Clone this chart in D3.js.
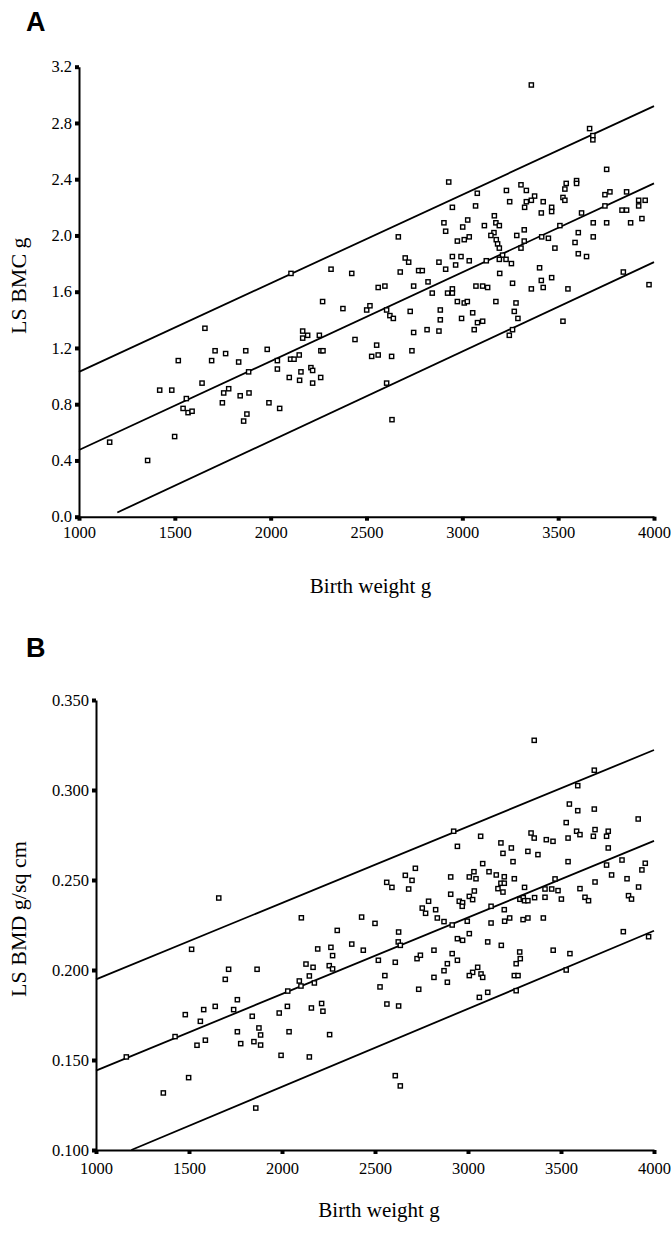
<!DOCTYPE html>
<html>
    <head>
        <title>Birth weight vs lumbar spine bone mass</title>
        <meta charset="UTF-8">
        <script type="text/javascript" src="https://cdn.jsdelivr.net/npm/d3@7"></script>
        <style type="text/css">
            body { margin: 0; background: #fff; }
            text { font-family: "Liberation Serif", "Times New Roman", serif; fill: #000; }
            .panel-letter { font-family: "Liberation Sans", Arial, sans-serif !important; font-weight: bold; font-size: 27px; }
            .axis path { stroke: #000; stroke-width: 2; fill: none; }
            .axis line { stroke: #000; stroke-width: 4; }
            .xaxis text { font-family: "Liberation Serif", serif !important; font-size: 16.5px !important; }
            .yaxis text { font-family: "Liberation Serif", serif !important; font-size: 16.5px !important; }
        </style>
    </head>
    <body>
        <div id="chart"></div>

        <script type="text/javascript">
            var svgW = 671;
            var svgH = 1233;

            // Panel A: birth weight (g), LS BMC (g)
            var pointsA = [
                [1160, 0.53], [1358, 0.40], [1421, 0.90], [1484, 0.90], [1499, 0.57], [1518, 1.11],
                [1543, 0.77], [1560, 0.84], [1569, 0.74], [1590, 0.75], [1642, 0.95], [1657, 1.34],
                [1692, 1.11], [1710, 1.18], [1748, 0.81], [1755, 0.88], [1765, 1.16], [1781, 0.91],
                [1833, 1.10], [1841, 0.86], [1859, 0.68], [1870, 1.18], [1876, 0.73], [1885, 1.03],
                [1887, 0.88], [1982, 1.19], [1991, 0.81], [2035, 1.11], [2035, 1.05], [2047, 0.77],
                [2097, 0.99], [2104, 1.12], [2122, 1.12], [2149, 1.15], [2151, 0.97], [2158, 1.03],
                [2167, 1.32], [2167, 1.27], [2193, 1.29], [2210, 1.06], [2219, 1.04], [2219, 0.95],
                [2254, 1.29], [2261, 0.99], [2262, 1.18], [2273, 1.18], [2271, 1.53], [2106, 1.73],
                [2315, 1.76], [3360, 3.07], [3664, 2.76], [3681, 2.71], [3681, 2.68], [2929, 2.38],
                [3753, 2.47], [3078, 2.30], [2948, 2.20], [3069, 2.21], [3230, 2.32], [3306, 2.36],
                [3334, 2.32], [3377, 2.28], [3360, 2.25], [3334, 2.24], [3325, 2.20], [3247, 2.24],
                [3422, 2.24], [3466, 2.20], [3466, 2.17], [3412, 2.16], [3542, 2.37], [3535, 2.33],
                [3596, 2.39], [3596, 2.37], [3525, 2.27], [3535, 2.25], [3744, 2.29], [3770, 2.31],
                [3857, 2.31], [3920, 2.25], [3954, 2.25], [3920, 2.21], [3744, 2.21], [3622, 2.16],
                [3833, 2.18], [3857, 2.18], [3937, 2.12], [3878, 2.09], [3753, 2.09], [3683, 2.09],
                [3509, 2.07], [3605, 2.02], [3683, 1.99], [3588, 1.95], [3605, 1.87], [3648, 1.85],
                [3483, 1.91], [3449, 1.98], [3414, 1.99], [3403, 1.77], [3466, 1.70], [3412, 1.68],
                [3422, 1.63], [3360, 1.62], [3551, 1.62], [3840, 1.74], [3974, 1.65], [3525, 1.39],
                [3323, 2.04], [3323, 1.96], [3306, 1.91], [3284, 2.00], [3167, 2.14], [3175, 2.09],
                [3193, 2.07], [3165, 2.02], [3149, 2.00], [3177, 1.97], [3184, 1.94], [3193, 1.91],
                [3210, 1.86], [3193, 1.83], [3228, 1.83], [3256, 1.80], [3125, 1.82], [3115, 2.07],
                [3195, 1.73], [3262, 1.66], [3028, 2.11], [3002, 2.06], [2904, 2.09], [2913, 2.03],
                [3036, 1.99], [3010, 1.97], [2974, 1.96], [2948, 1.85], [2993, 1.85], [3036, 1.82],
                [2878, 1.81], [2965, 1.79], [2913, 1.76], [2666, 1.99], [2702, 1.84], [2720, 1.81],
                [2676, 1.74], [2772, 1.75], [2791, 1.75], [2821, 1.67], [2843, 1.59], [2746, 1.64],
                [2596, 1.64], [2561, 1.63], [2423, 1.73], [2923, 1.59], [2948, 1.62], [2948, 1.59],
                [3071, 1.64], [3106, 1.64], [3132, 1.63], [2974, 1.53], [3010, 1.52], [3026, 1.53],
                [3175, 1.53], [3280, 1.52], [3271, 1.46], [3290, 1.41], [3262, 1.33], [3245, 1.29],
                [3054, 1.45], [2996, 1.41], [3079, 1.38], [3106, 1.39], [3062, 1.33], [2885, 1.47],
                [2885, 1.40], [2878, 1.32], [2816, 1.33], [2746, 1.31], [2728, 1.46], [2605, 1.47],
                [2622, 1.43], [2640, 1.41], [2501, 1.47], [2518, 1.50], [2377, 1.48], [2440, 1.26],
                [2553, 1.22], [2527, 1.14], [2561, 1.15], [2631, 1.14], [2737, 1.18], [2605, 0.95],
                [2633, 0.69]
            ];

            // Panel A regression line and its limits
            var fitA = [[1000, 0.474], [4000, 2.37]];
            var upperA = [[1000, 1.03], [4000, 2.92]];
            var lowerA = [[1200, 0.03], [4000, 1.81]];

            // Panel B: birth weight (g), LS BMD (g/sq cm)
            var pointsB = [
                [1660, 0.240], [2104, 0.229], [2297, 0.222], [1514, 0.2115], [1713, 0.2004], [1866, 0.2004],
                [1695, 0.1948], [2129, 0.2033], [2167, 0.2015], [2192, 0.2117], [2263, 0.2126], [2272, 0.208],
                [2254, 0.2024], [2272, 0.2006], [2147, 0.1967], [2093, 0.1939], [2102, 0.1911], [2174, 0.1928],
                [2031, 0.1883], [2029, 0.1798], [2158, 0.1789], [2213, 0.1814], [2220, 0.1771], [1985, 0.1761],
                [2038, 0.1657], [2147, 0.1517], [1995, 0.1526], [2256, 0.1641], [1840, 0.1743], [1849, 0.1602],
                [1876, 0.1678], [1885, 0.1639], [1885, 0.1583], [1778, 0.1591], [1760, 0.1657], [1760, 0.1835],
                [1740, 0.1780], [1641, 0.1798], [1579, 0.1780], [1561, 0.1715], [1480, 0.1752], [1588, 0.1610],
                [1543, 0.1582], [1425, 0.1630], [1163, 0.1517], [1498, 0.1402], [1362, 0.1317], [1859, 0.1233],
                [3356, 0.3276], [3679, 0.311], [3590, 0.3024], [3545, 0.2922], [3590, 0.2885], [3679, 0.2894],
                [3915, 0.2839], [3528, 0.2819], [2923, 0.2771], [3068, 0.2743], [2943, 0.2687], [3177, 0.2706],
                [3233, 0.2678], [3188, 0.2648], [3339, 0.2761], [3356, 0.2733], [3421, 0.2724], [3457, 0.2715],
                [3538, 0.2733], [3584, 0.2771], [3602, 0.2752], [3683, 0.2780], [3674, 0.2743], [3754, 0.2771],
                [3745, 0.2743], [3754, 0.2678], [3322, 0.2659], [3376, 0.2641], [3538, 0.2602], [3242, 0.2602],
                [3079, 0.2591], [3032, 0.2546], [3113, 0.2546], [3152, 0.2528], [3195, 0.2518], [3007, 0.2517],
                [3043, 0.2507], [2907, 0.2517], [3249, 0.2507], [3177, 0.2482], [3195, 0.2482], [3161, 0.2452],
                [3188, 0.2433], [3034, 0.2439], [3007, 0.2409], [3025, 0.2391], [2907, 0.2421], [2953, 0.2382],
                [2971, 0.2374], [2969, 0.2354], [3124, 0.2354], [3195, 0.2335], [3304, 0.2459], [3279, 0.2393],
                [3297, 0.2402], [3304, 0.2385], [3322, 0.2385], [3358, 0.2402], [3414, 0.2450], [3414, 0.2404],
                [3450, 0.2450], [3468, 0.2506], [3484, 0.2441], [3502, 0.2394], [3602, 0.2452], [3629, 0.2404],
                [3648, 0.2385], [3683, 0.2489], [3745, 0.2583], [3772, 0.2528], [3828, 0.2611], [3855, 0.2507],
                [3917, 0.2461], [3935, 0.2556], [3953, 0.2593], [3863, 0.2413], [3879, 0.2394], [3835, 0.2213],
                [3971, 0.2185], [3405, 0.2289], [3322, 0.2289], [3296, 0.2280], [3224, 0.2289], [3197, 0.2271],
                [3124, 0.2261], [2996, 0.2271], [2915, 0.2250], [2871, 0.2269], [2835, 0.2289], [2826, 0.2335],
                [2788, 0.2382], [2754, 0.2344], [2772, 0.2315], [2717, 0.2565], [2663, 0.2526], [2699, 0.2498],
                [2563, 0.2487], [2591, 0.2459], [2681, 0.2450], [2428, 0.2294], [2500, 0.2259], [2627, 0.2211],
                [2625, 0.2156], [2636, 0.2137], [2437, 0.2110], [2375, 0.2144], [2518, 0.2054], [2609, 0.2043],
                [2726, 0.2063], [2744, 0.2082], [2817, 0.2110], [2915, 0.2091], [2943, 0.2054], [2889, 0.2035],
                [2871, 0.1996], [2817, 0.1959], [2889, 0.1932], [2943, 0.2174], [2971, 0.2165], [3007, 0.2202],
                [3106, 0.2156], [3179, 0.2137], [3278, 0.2100], [3281, 0.2063], [3259, 0.2035], [3052, 0.2015],
                [3025, 0.1987], [3007, 0.1969], [3070, 0.1978], [3079, 0.1959], [3249, 0.1969], [3269, 0.1969],
                [3458, 0.2110], [3548, 0.2091], [3528, 0.2000], [2553, 0.1969], [2527, 0.1906], [2735, 0.1893],
                [3259, 0.1885], [3106, 0.1876], [3061, 0.1848], [2564, 0.1811], [2627, 0.1800], [2609, 0.1413],
                [2636, 0.1356]
            ];

            var fitB = [[1000, 0.1441], [4000, 0.2717]];
            var upperB = [[1000, 0.1948], [4000, 0.3222]];
            var lowerB = [[1190, 0.100], [4000, 0.2218]];

            var xTicks = [1000, 1500, 2000, 2500, 3000, 3500, 4000];
            var yTicksA = [0.0, 0.4, 0.8, 1.2, 1.6, 2.0, 2.4, 2.8, 3.2];
            var yTicksB = [0.100, 0.150, 0.200, 0.250, 0.300, 0.350];

            var svg = d3.select("#chart").append("svg")
                    .attr("width", svgW)
                    .attr("height", svgH);

            function drawPanel(opt) {
                var x = d3.scaleLinear().domain([1000, 4000]).range([opt.left, opt.right]);
                var y = d3.scaleLinear().domain(opt.yDomain).range([opt.bottom, opt.top]);

                svg.append("text")
                        .attr("class", "panel-letter")
                        .attr("x", 26)
                        .attr("y", opt.letterY)
                        .text(opt.letter);

                svg.append("g")
                        .attr("class", "axis xaxis")
                        .attr("transform", "translate(0," + opt.bottom + ")")
                        .call(d3.axisBottom(x).tickValues(xTicks).tickSize(4).tickSizeOuter(0)
                                .tickPadding(opt.xPad).tickFormat(d3.format("d")))
                        .attr("font-family", "Liberation Serif")
                        .attr("font-size", 16.5);

                svg.append("g")
                        .attr("class", "axis yaxis")
                        .attr("transform", "translate(" + opt.left + ",0)")
                        .call(d3.axisLeft(y).tickValues(opt.yTicks).tickSize(4).tickSizeOuter(0)
                                .tickPadding(3).tickFormat(d3.format(opt.yFormat)))
                        .attr("font-family", "Liberation Serif")
                        .attr("font-size", 16.5);

                var line = d3.line()
                        .x(function (d) { return x(d[0]); })
                        .y(function (d) { return y(d[1]); });

                [opt.upper, opt.fit, opt.lower].forEach(function (l) {
                    svg.append("path")
                            .attr("d", line(l))
                            .attr("fill", "none")
                            .attr("stroke", "#000")
                            .attr("stroke-width", 1.8);
                });

                var s = 4.2;
                svg.append("g").selectAll("rect")
                        .data(opt.points)
                        .enter()
                        .append("rect")
                        .attr("x", function (d) { return x(d[0]) - s / 2; })
                        .attr("y", function (d) { return y(d[1]) - s / 2; })
                        .attr("width", s)
                        .attr("height", s)
                        .attr("fill", "#fff")
                        .attr("stroke", "#000")
                        .attr("stroke-width", 1.4);

                svg.append("text")
                        .attr("transform", "translate(26," + ((opt.top + opt.bottom) / 2 - 6) + ") rotate(-90)")
                        .attr("text-anchor", "middle")
                        .style("font-size", "22px")
                        .text(opt.yLabel);

                svg.append("text")
                        .attr("x", (opt.left + opt.right) / 2 + 4)
                        .attr("y", opt.xLabelY)
                        .attr("text-anchor", "middle")
                        .style("font-size", "21px")
                        .text("Birth weight g");
            }

            drawPanel({
                letter: "A", letterY: 31,
                left: 79, right: 654, top: 66.7, bottom: 516.7,
                yDomain: [0, 3.2], yTicks: yTicksA, yFormat: ".1f",
                xPad: 6, xLabelY: 593,
                points: pointsA, fit: fitA, upper: upperA, lower: lowerA,
                yLabel: "LS BMC g"
            });

            drawPanel({
                letter: "B", letterY: 657,
                left: 96, right: 654, top: 700, bottom: 1150,
                yDomain: [0.1, 0.35], yTicks: yTicksB, yFormat: ".3f",
                xPad: 8, xLabelY: 1217,
                points: pointsB, fit: fitB, upper: upperB, lower: lowerB,
                yLabel: "LS BMD g/sq cm"
            });
        </script>
    </body>
</html>
